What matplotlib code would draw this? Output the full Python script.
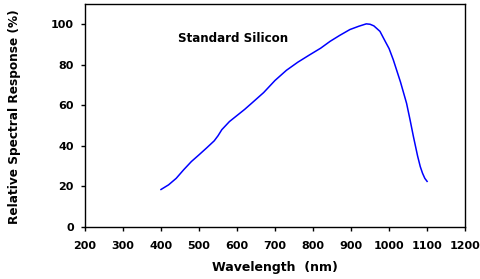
import matplotlib
matplotlib.use("Agg")
import matplotlib.pyplot as plt

# === Data ===
wavelength = [400, 420, 440, 460, 480, 500, 520, 540, 550, 560, 580, 600,
              620, 640, 670, 700, 730, 760, 790, 820, 845, 870, 897, 920,
              940, 950, 960, 976, 990, 1000, 1011, 1030, 1046, 1055, 1064,
              1075, 1082, 1088, 1094, 1100]
response = [18.5, 20.8, 24.0, 28.3, 32.3, 35.6, 39.0, 42.5, 45.0, 48.0,
            52.0, 55.0, 58.0, 61.3, 66.3, 72.3, 77.3, 81.3, 84.8, 88.2,
            91.6, 94.5, 97.4, 99.0, 100.2, 100.0, 99.2, 96.5, 91.5, 88.0,
            82.5, 71.5, 61.0, 53.0, 44.6, 35.0, 29.8, 26.5, 24.0, 22.5]

xticks = list(range(200, 1201, 100))
yticks = list(range(0, 101, 20))

plt.rcParams['font.family'] = 'DejaVu Sans'
plt.rcParams['font.weight'] = 'bold'

fig = plt.figure(figsize=(4.8, 2.79), dpi=100)
ax = fig.add_axes([0.177, 0.1864, 0.792, 0.7993])

ax.plot(wavelength, response, color="#0000ff", linewidth=1.1)

ax.set_xlim(200, 1200)
ax.set_ylim(0, 110)
ax.set_xticks(xticks)
ax.set_yticks(yticks)
ax.tick_params(direction="out", length=3, width=1, labelsize=8)
ax.tick_params(axis="x", pad=7.4)
ax.tick_params(axis="y", pad=5)
for lbl in ax.get_xticklabels() + ax.get_yticklabels():
    lbl.set_fontweight("bold")
for s in ax.spines.values():
    s.set_linewidth(1)

ax.set_xlabel("Wavelength  (nm)", fontsize=9, fontweight="bold", labelpad=7)
ax.set_ylabel("Relative Spectral Response (%)", fontsize=8.7, fontweight="bold")
ax.yaxis.set_label_coords(-0.168, 0.493)
ax.text(589, 93, "Standard Silicon", fontsize=8.6, fontweight="bold",
        ha="center", va="center")

fig.savefig("out.png", dpi=100)
